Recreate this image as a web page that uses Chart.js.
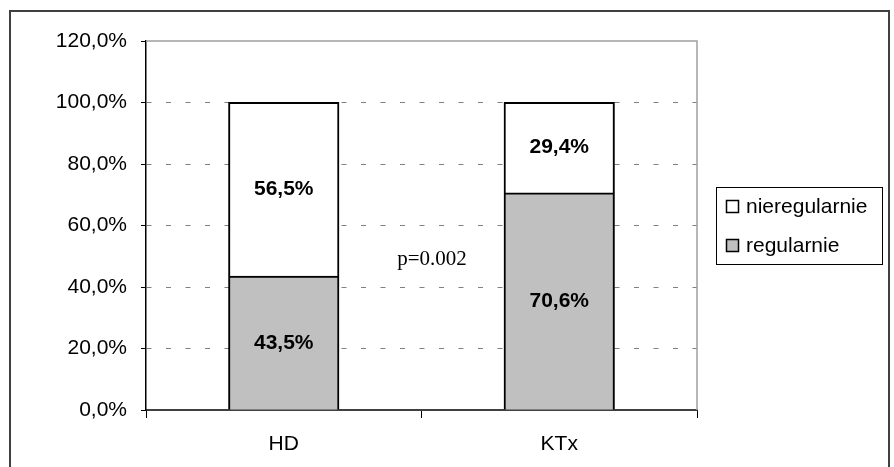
<!DOCTYPE html>
<html>
<head>
<meta charset="utf-8">
<script src="https://cdn.jsdelivr.net/npm/chart.js@4/dist/chart.umd.min.js"></script>
<style>
  html, body { margin: 0; padding: 0; background: #fff; }
  canvas { display: block; }
</style>
</head>
<body>
<canvas id="c" width="894" height="467"></canvas>
<script>
// chart values
const categories = ['HD', 'KTx'];
const regularnie = [43.5, 70.6];
const nieregularnie = [56.5, 29.4];
const seriesNames = ['regularnie', 'nieregularnie'];
const yTicks = [0, 20, 40, 60, 80, 100, 120];
const pValueText = 'p=0.002';

const SANS = '"Liberation Sans", Arial, sans-serif';
const SERIF = '"Liberation Serif", "Times New Roman", serif';

const fmtPct = v => v.toFixed(1).replace('.', ',') + '%';

/** Data labels centred inside each bar segment */
const segmentLabels = {
    id: 'segmentLabels',
    afterDatasetsDraw(chart) {
        const ctx = chart.ctx;
        ctx.save();
        ctx.font = 'bold 21px ' + SANS;
        ctx.fillStyle = '#000';
        ctx.textAlign = 'center';
        ctx.textBaseline = 'middle';
        chart.data.datasets.forEach((ds, i) => {
            chart.getDatasetMeta(i).data.forEach((bar, j) => {
                const { x, y, base } = bar.getProps(['x', 'y', 'base'], true);
                ctx.fillText(fmtPct(ds.data[j]), x, (y + base) / 2);
            });
        });
        ctx.restore();
    }
};

/** Plot frame, legend box, p-value note and outer border */
const decorations = {
    id: 'decorations',
    beforeDatasetsDraw(chart) {
        const { ctx, chartArea: a } = chart;
        ctx.save();
        ctx.strokeStyle = '#a0a0a0';
        ctx.lineWidth = 1.5;
        ctx.beginPath();
        ctx.moveTo(a.left, a.top);
        ctx.lineTo(a.right, a.top);
        ctx.lineTo(a.right, a.bottom);
        ctx.stroke();
        ctx.restore();
    },
    afterDraw(chart) {
        const { ctx } = chart;
        ctx.save();

        // outer border (bottom edge runs off the picture)
        ctx.strokeStyle = '#404040';
        ctx.lineWidth = 2;
        ctx.strokeRect(10, 11, 879, 470);

        // legend
        const lx = 716, ly = 187, lw = 166, lh = 77;
        ctx.strokeStyle = '#000';
        ctx.lineWidth = 1;
        ctx.strokeRect(lx + 0.5, ly + 0.5, lw, lh);
        ctx.font = '21px ' + SANS;
        ctx.textBaseline = 'middle';
        ctx.textAlign = 'left';
        const items = chart.data.datasets.slice().reverse();
        items.forEach((ds, i) => {
            const cy = 207 + i * 39;
            ctx.fillStyle = ds.backgroundColor;
            ctx.fillRect(726.5, cy - 6.5, 12, 12);
            ctx.strokeStyle = '#000';
            ctx.lineWidth = 1.5;
            ctx.strokeRect(726.5, cy - 6.5, 12, 12);
            ctx.fillStyle = '#000';
            ctx.fillText(ds.label, 746, cy);
        });

        // p-value note
        ctx.font = '21px ' + SERIF;
        ctx.textAlign = 'center';
        ctx.fillText(pValueText, 432, 259);
        ctx.restore();
    }
};

new Chart(document.getElementById('c'), {
    type: 'bar',
    data: {
        labels: categories,
        datasets: [
            {
                label: seriesNames[0],
                data: regularnie,
                backgroundColor: '#c0c0c0',
                borderColor: '#000',
                borderWidth: 2
            },
            {
                label: seriesNames[1],
                data: nieregularnie,
                backgroundColor: '#ffffff',
                borderColor: '#000',
                borderWidth: 2
            }
        ]
    },
    options: {
        responsive: false,
        animation: false,
        devicePixelRatio: 1,
        layout: { padding: { left: 10, right: 197, top: 41, bottom: 0 } },
        datasets: { bar: { categoryPercentage: 1, barPercentage: 0.4, inflateAmount: 0.5 } },
        plugins: {
            legend: { display: false },
            tooltip: { enabled: false }
        },
        scales: {
            x: {
                stacked: true,
                afterFit: s => { s.height = 57; },
                grid: {
                    offset: true,
                    drawOnChartArea: false,
                    tickLength: 8,
                    tickColor: '#000'
                },
                border: { color: '#404040', width: 2 },
                ticks: {
                    color: '#000',
                    padding: 14,
                    font: { family: SANS, size: 21 }
                }
            },
            y: {
                stacked: true,
                min: yTicks[0],
                max: yTicks[yTicks.length - 1],
                afterFit: s => { s.width = 136; },
                afterBuildTicks: s => { s.ticks = yTicks.map(v => ({ value: v })); },
                grid: {
                    color: c => (c.tick && (c.tick.value === 120 || c.tick.value === 0)) ? 'rgba(0,0,0,0)' : '#808080',
                    lineWidth: 1,
                    tickLength: 5,
                    tickColor: '#000'
                },
                border: { color: '#000', width: 1.5, dash: [5, 14.5] },
                ticks: {
                    color: '#000',
                    padding: 14,
                    font: { family: SANS, size: 21 },
                    callback: v => fmtPct(v)
                }
            }
        }
    },
    plugins: [segmentLabels, decorations]
});
</script>
</body>
</html>
